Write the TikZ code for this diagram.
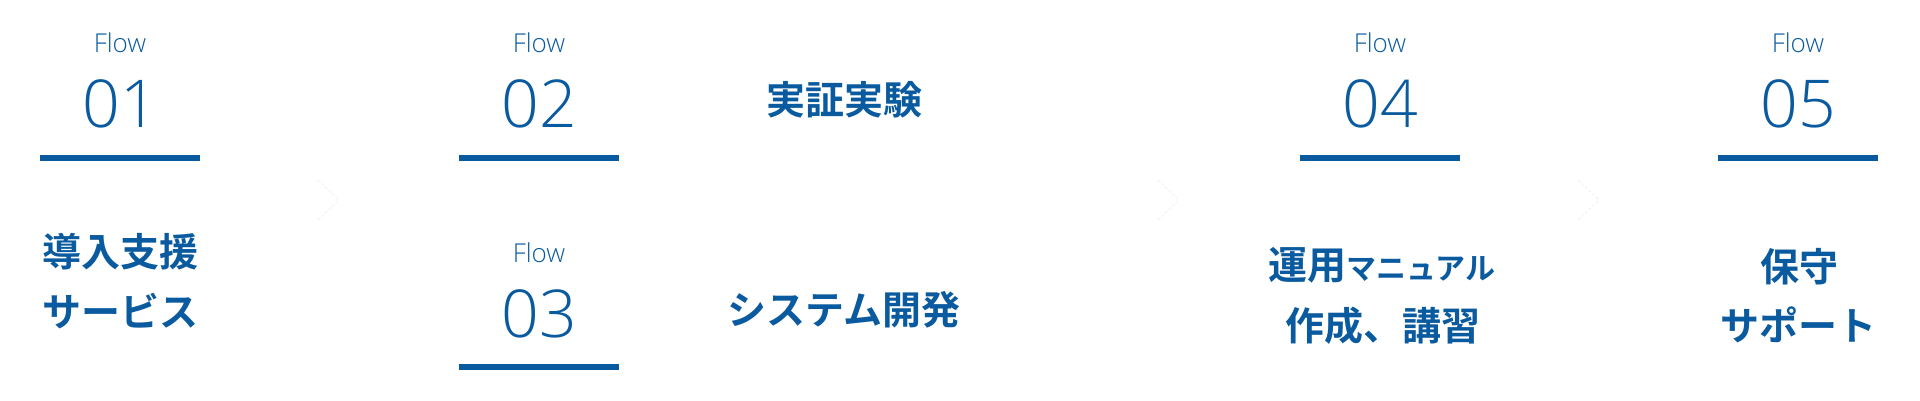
\documentclass[tikz,border=0pt]{standalone}
\usepackage{fontspec}
\usetikzlibrary{positioning}
\newfontfamily\jpfont{Noto Sans CJK JP Bold}
\IfFontExistsTF{Open Sans Light}{\newfontfamily\flowfont{Open Sans Light}}{%
  \IfFontExistsTF{Lato Light}{\newfontfamily\flowfont{Lato Light}}{\newfontfamily\flowfont{Noto Sans}}}
\definecolor{flowblue}{HTML}{0A5A9F}

\tikzset{
  flowlbl/.style={anchor=base, inner sep=0pt, text=flowblue, font=\flowfont\fontsize{26}{30}\selectfont},
  flownum/.style={anchor=base, inner sep=0pt, text=flowblue, font=\flowfont\fontsize{66}{70}\selectfont},
  flowbar/.style={fill=flowblue, inner sep=0pt, minimum width=160pt, minimum height=6pt},
  steptext/.style={anchor=base, inner sep=0pt, text=flowblue, font=\jpfont\fontsize{39}{45}\selectfont},
  chevron/.style={draw=black!5, line width=1pt, densely dashed}
}

\begin{document}
\begin{tikzpicture}[x=1pt, y=-1pt]
        \useasboundingbox (0,0) rectangle (1920,400);
        % Flow 01
        \node[flowlbl] (flow1) at (120,52) {Flow};
        \node[flownum] (num1) at (120,127) {01};
        \node[flowbar] (bar1) at (120,158) {};
        \node[steptext] (intro) at (120,266) {導入支援};
        \node[steptext] (intro2) at (120,326) {サービス};
        % Flow 02 / 03
        \node[flowlbl] (flow2) at (539,52) {Flow};
        \node[flownum] (num2) at (539,127) {02};
        \node[flowbar] (bar2) at (539,158) {};
        \node[steptext] (poc) at (844,114) {実証実験};
        \node[flowlbl] (flow3) at (539,262) {Flow};
        \node[flownum] (num3) at (539,337) {03};
        \node[flowbar] (bar3) at (539,367) {};
        \node[steptext] (dev) at (844,324) {システム開発};
        % Flow 04
        \node[flowlbl] (flow4) at (1380,52) {Flow};
        \node[flownum] (num4) at (1380,127) {04};
        \node[flowbar] (bar4) at (1380,158) {};
        \node[steptext] (manual) at (1382,279) {運用{\fontsize{30}{36}\selectfont マニュアル}};
        \node[steptext] (manual2) at (1383,340) {作成、講習};
        % Flow 05
        \node[flowlbl] (flow5) at (1798,52) {Flow};
        \node[flownum] (num5) at (1798,127) {05};
        \node[flowbar] (bar5) at (1798,158) {};
        \node[steptext] (support) at (1799,281) {保守};
        \node[steptext] (support2) at (1798,340) {サポート};
        % chevrons
        \coordinate (chev1) at (328,200);
        \coordinate (chev2) at (1168,200);
        \coordinate (chev3) at (1588,200);
        \draw[chevron] ([shift={(-10,-20)}]chev1) -- ([shift={(11,0)}]chev1) -- ([shift={(-10,20)}]chev1);
        \draw[chevron] ([shift={(-10,-20)}]chev2) -- ([shift={(11,0)}]chev2) -- ([shift={(-10,20)}]chev2);
        \draw[chevron] ([shift={(-10,-20)}]chev3) -- ([shift={(11,0)}]chev3) -- ([shift={(-10,20)}]chev3);
    \end{tikzpicture}
\end{document}
